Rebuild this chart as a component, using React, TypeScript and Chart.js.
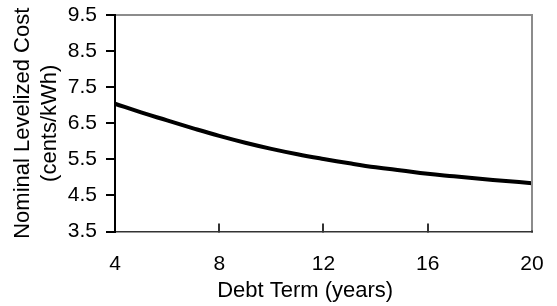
import React, { useEffect, useRef } from "react";
import { Chart, registerables } from "chart.js";

Chart.register(...registerables);

const debtTermYears = [4, 5, 6, 7, 8, 9, 10, 11, 12, 13, 14, 15, 16, 17, 18, 19, 20];
const levelizedCost = [7.04, 6.8, 6.58, 6.36, 6.15, 5.96, 5.79, 5.64, 5.51, 5.39, 5.28, 5.19, 5.1, 5.03, 4.96, 4.9, 4.84];
const xTickValues = [4, 8, 12, 16, 20];
const yTickValues = [3.5, 4.5, 5.5, 6.5, 7.5, 8.5, 9.5];
const xTitle = "Debt Term (years)      ";
const yTitle = ["Nominal Levelized Cost", "(cents/kWh)"];

const FONT = "'Liberation Sans', Arial, Helvetica, sans-serif";

const plotFrame = {
  id: "plotFrame",
  afterDraw(chart: any) {
    const ctx = chart.ctx;
    const a = chart.chartArea;
    ctx.save();
    ctx.fillStyle = "#8c8c8c";
    ctx.fillRect(a.left + 1, a.top - 1, a.right - a.left, 2);
    ctx.fillRect(a.right - 1, a.top - 1, 2, a.bottom - a.top);
    ctx.restore();
  },
};

export default function App() {
  const ref = useRef<HTMLCanvasElement | null>(null);

  useEffect(() => {
    if (!ref.current) return;
    const points = debtTermYears.map((x, i) => ({ x, y: levelizedCost[i] }));
    const xMin = xTickValues[0];
    const xMax = xTickValues[xTickValues.length - 1];
    const yMin = yTickValues[0];
    const yMax = yTickValues[yTickValues.length - 1];
    const chart = new Chart(ref.current, {
      type: "line",
      data: {
        datasets: [
          {
            data: points,
            borderColor: "#000000",
            borderWidth: 4,
            pointRadius: 0,
            tension: 0.4,
            fill: false,
          },
        ],
      },
      plugins: [plotFrame],
      options: {
        animation: false,
        responsive: true,
        maintainAspectRatio: false,
        layout: { padding: { top: 15, right: 25, left: 0, bottom: 0 } },
        plugins: { legend: { display: false }, tooltip: { enabled: false } },
        scales: {
          x: {
            type: "linear",
            position: "bottom",
            min: xMin,
            max: xMax,
            border: { display: true, color: "#333333", width: 1.5 },
            grid: { display: true, drawOnChartArea: false, drawTicks: true, tickLength: -8, color: "#333333", lineWidth: 2 },
            ticks: {
              stepSize: xTickValues[1] - xTickValues[0],
              color: "#000000",
              font: { family: FONT, size: 21, lineHeight: 3.1 },
              padding: 8,
              maxRotation: 0,
              autoSkip: false,
            },
            title: {
              display: true,
              text: xTitle,
              color: "#000000",
              font: { family: FONT, size: 22 },
              padding: { top: -27, bottom: 2 },
            },
          },
          y: {
            type: "linear",
            position: "left",
            min: yMin,
            max: yMax,
            border: { display: true, color: "#000000", width: 2 },
            grid: { display: true, drawOnChartArea: false, drawTicks: true, tickLength: 9, color: "#000000", lineWidth: 2 },
            ticks: {
              stepSize: yTickValues[1] - yTickValues[0],
              color: "#000000",
              font: { family: FONT, size: 21, lineHeight: 0.5 },
              padding: 9,
              autoSkip: false,
              callback: (v: any) => Number(v).toFixed(1),
            },
            title: {
              display: true,
              text: yTitle,
              color: "#000000",
              font: { family: FONT, size: 22 },
              padding: { top: 10, bottom: -4 },
            },
          },
        },
      },
    });
    return () => chart.destroy();
  }, []);

  return (
    <div style={{ position: "absolute", left: 0, top: 0, width: 557, height: 306 }}>
      <canvas ref={ref} />
    </div>
  );
}
